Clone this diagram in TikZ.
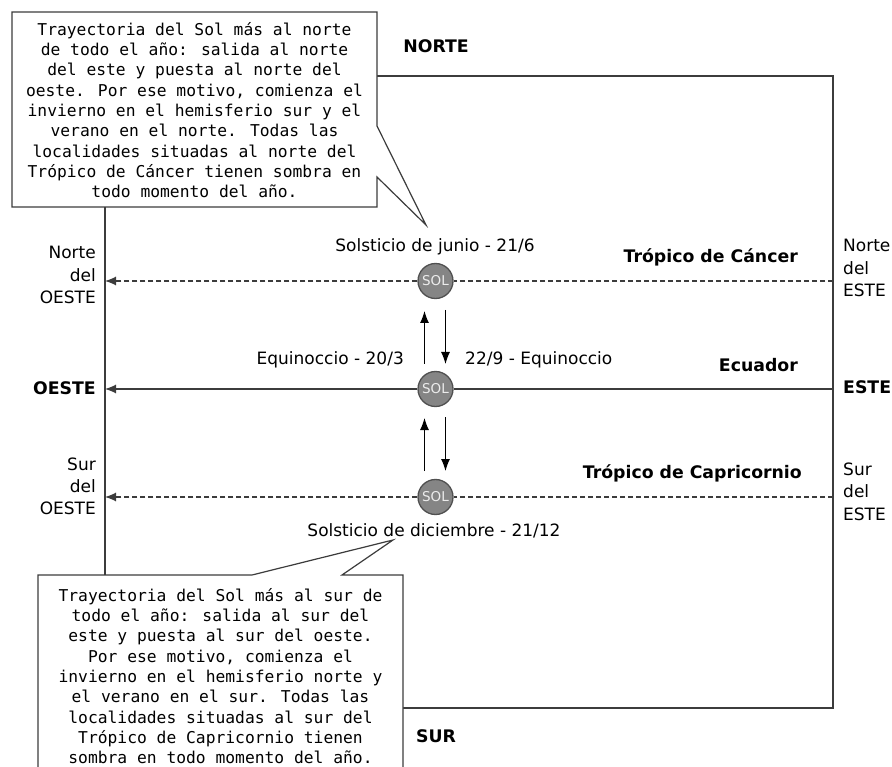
\documentclass[tikz,border=0pt]{standalone}
\usepackage{fontspec}
\setmainfont{DejaVu Sans}
\newfontfamily\calloutfont{DejaVu Sans Mono}
\usetikzlibrary{arrows.meta}
\definecolor{linegray}{HTML}{3C3C3C}
\definecolor{solfill}{HTML}{858585}
\definecolor{soledge}{HTML}{505050}
\tikzset{
  frameline/.style={draw=linegray, line width=1.4pt},
  pathline/.style={draw=linegray, line width=1.2pt, -{Latex[length=11pt,width=9pt]}},
  dashline/.style={pathline, dash pattern=on 5pt off 3pt},
  moveline/.style={draw=black, line width=1.1pt, -{Latex[length=12pt,width=9pt]}},
  sun/.style={circle, minimum size=35pt, inner sep=0pt, fill=solfill, draw=soledge, line width=1.3pt,
    text=white!85!gray, font=\fontsize{13.5}{14}\selectfont},
  lbl/.style={inner sep=0pt, font=\fontsize{17}{22.5}\selectfont},
  blbl/.style={inner sep=0pt, font=\fontsize{17.3}{22.5}\selectfont\bfseries},
  calloutbox/.style={draw=linegray, fill=white, line width=1.2pt},
  callouttext/.style={inner sep=0pt, align=center, font=\calloutfont\fontsize{16.3}{20.3}\selectfont},
}
\begin{document}
\begin{tikzpicture}[x=1pt, y=-1pt]
\useasboundingbox (0,0) rectangle (892,767);
\clip (0,0) rectangle (892,767);
% frame
\draw[frameline] (105,76) rectangle (833,708);
% named frame points
\coordinate (wN) at (105,281);
\coordinate (wE) at (105,389);
\coordinate (wS) at (105,497);
\coordinate (eN) at (833,281);
\coordinate (eE) at (833,389);
\coordinate (eS) at (833,497);
% suns
\node[sun] (solN) at (435.5,281) {SOL};
\node[sun] (solE) at (435.5,389) {SOL};
\node[sun] (solS) at (435.5,497) {SOL};
% paths
\draw[dashline] (solN) -- (wN);
\draw[dashline, -] (eN) -- (solN);
\draw[pathline] (solE) -- (wE);
\draw[pathline, -] (eE) -- (solE);
\draw[dashline] (solS) -- (wS);
\draw[dashline, -] (eS) -- (solS);
% movement arrows
\coordinate (u1a) at (424.5,364); \coordinate (u1b) at (424.5,311);
\coordinate (d1a) at (445.5,310); \coordinate (d1b) at (445.5,364);
\coordinate (u2a) at (424.5,471); \coordinate (u2b) at (424.5,418);
\coordinate (d2a) at (445.5,417); \coordinate (d2b) at (445.5,471);
\draw[moveline] (u1a) -- (u1b);
\draw[moveline] (d1a) -- (d1b);
\draw[moveline] (u2a) -- (u2b);
\draw[moveline] (d2a) -- (d2b);
% labels
\node[blbl, anchor=base] (norte) at (436,53) {NORTE};
\node[blbl, anchor=base] (sur) at (436,742) {SUR};
\node[lbl, anchor=base] (junio) at (435,252) {Solsticio de junio - 21/6};
\node[lbl, anchor=base] (diciembre) at (434,536) {Solsticio de diciembre - 21/12};
\node[lbl, anchor=base east] (eq1) at (404,365) {Equinoccio - 20/3};
\node[lbl, anchor=base west] (eq2) at (465,365) {22/9 - Equinoccio};
\node[blbl, anchor=base east] (cancer) at (798,263) {Trópico de Cáncer};
\node[blbl, anchor=base east] (ecuador) at (798,372) {Ecuador};
\node[blbl, anchor=base east] (capri) at (802,478) {Trópico de Capricornio};
% west labels
\node[lbl, anchor=base east] (nwo) at (96,259) {Norte};
\node[lbl, anchor=base east] (nwo2) at (96,281.5) {del};
\node[lbl, anchor=base east] (nwo3) at (96,304) {OESTE};
\node[blbl, anchor=base east] (oeste) at (96,395) {OESTE};
\node[lbl, anchor=base east] (swo) at (96,470) {Sur};
\node[lbl, anchor=base east] (swo2) at (96,492) {del};
\node[lbl, anchor=base east] (swo3) at (96,514) {OESTE};
% east labels
\node[lbl, anchor=base west] (neo) at (843,252) {Norte};
\node[lbl, anchor=base west] (neo2) at (843,275) {del};
\node[lbl, anchor=base west] (neo3) at (843,297) {ESTE};
\node[blbl, anchor=base west] (este) at (843,394) {ESTE};
\node[lbl, anchor=base west] (seo) at (843,475) {Sur};
\node[lbl, anchor=base west] (seo2) at (843,497) {del};
\node[lbl, anchor=base west] (seo3) at (843,520) {ESTE};
% top callout
\coordinate (tipN) at (426,225);
\draw[calloutbox] (12,12) -- (377,12) -- (377,126) -- (tipN) -- (377,177) -- (377,207) -- (12,207) -- cycle;
\node[callouttext] (calloutN) at (194.5,110) {Trayectoria del Sol más al norte\\de todo el año: salida al norte\\del este y puesta al norte del\\oeste. Por ese motivo, comienza el\\invierno en el hemisferio sur y el\\verano en el norte. Todas las\\localidades situadas al norte del\\Trópico de Cáncer tienen sombra en\\todo momento del año.};
% bottom callout
\coordinate (tipS) at (393,540);
\draw[calloutbox] (38,575) -- (252,575) -- (tipS) -- (342,575) -- (403,575) -- (403,790) -- (38,790) -- cycle;
\node[callouttext] (calloutS) at (220.5,676) {Trayectoria del Sol más al sur de\\todo el año: salida al sur del\\este y puesta al sur del oeste.\\Por ese motivo, comienza el\\invierno en el hemisferio norte y\\el verano en el sur. Todas las\\localidades situadas al sur del\\Trópico de Capricornio tienen\\sombra en todo momento del año.};
\end{tikzpicture}
\end{document}
